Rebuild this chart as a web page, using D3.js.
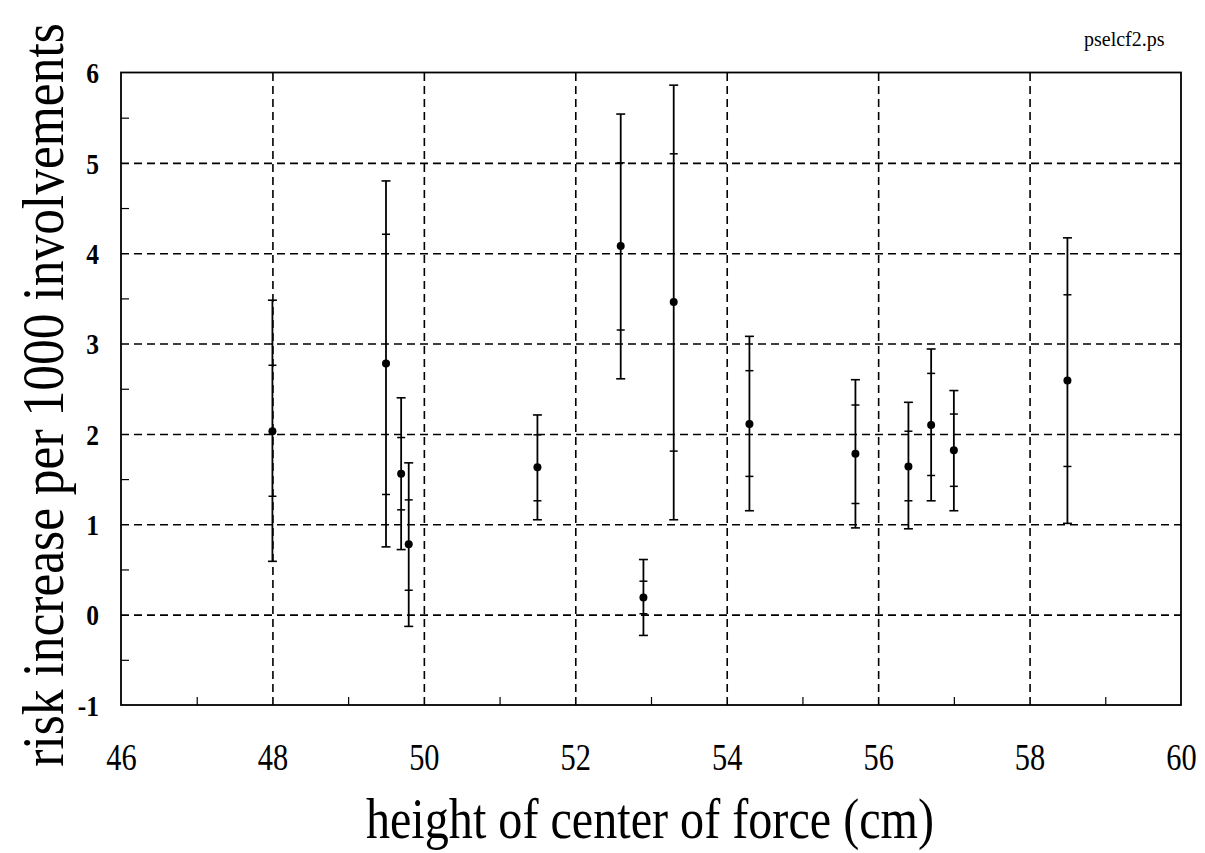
<!DOCTYPE html>
<html><head><meta charset="utf-8">
<script src="https://cdn.jsdelivr.net/npm/d3@7/dist/d3.min.js"></script>
<style>body{margin:0;background:#fff;} svg{display:block}</style>
</head><body>
<script>
// data
const xValues   = [48.0, 49.5, 49.7, 49.8, 51.5, 52.6, 52.9, 53.3, 54.3, 55.7, 56.4, 56.7, 57.0, 58.5];
const yValues   = [2.03, 2.78, 1.56, 0.78, 1.63, 4.08, 0.19, 3.46, 2.11, 1.78, 1.64, 2.10, 1.82, 2.59];
const innerLow  = [1.31, 1.33, 1.16, 0.27, 1.26, 3.15, 0.01, 1.81, 1.53, 1.23, 1.26, 1.54, 1.42, 1.64];
const innerHigh = [2.76, 4.21, 1.96, 1.27, 1.99, 5.00, 0.37, 5.10, 2.70, 2.32, 2.03, 2.67, 2.22, 3.54];
const outerLow  = [0.59, 0.75, 0.72, -0.13, 1.05, 2.61, -0.23, 1.05, 1.15, 0.96, 0.95, 1.26, 1.15, 1.01];
const outerHigh = [3.48, 4.80, 2.40, 1.68, 2.21, 5.54, 0.61, 5.86, 3.08, 2.60, 2.35, 2.94, 2.48, 4.17];
const xTicks = [46, 48, 50, 52, 54, 56, 58, 60];
const xMinorTicks = [47, 49, 51, 53, 55, 57, 59];
const xGrid = [48, 50, 52, 54, 56, 58];
const yTicks = [-1, 0, 1, 2, 3, 4, 5, 6];
const yMinorTicks = [-0.5, 0.5, 1.5, 2.5, 3.5, 4.5, 5.5];
const yGrid = [0, 1, 2, 3, 4, 5];
const xTitle = "height of center of force (cm)";
const yTitle = "risk increase per 1000 involvements";
const fileLabel = "pselcf2.ps";

const W = 1205, H = 853;
const L = 121, R = 1181, T = 72.5, B = 705;

const svg = d3.select("body").append("svg").attr("width", W).attr("height", H);
const x = d3.scaleLinear().domain([46, 60]).range([L, R]);
const y = d3.scaleLinear().domain([-1, 6]).range([B, T]);

// grid lines
const gy = svg.append("g").attr("transform", `translate(${L},0)`)
  .call(d3.axisLeft(y).tickValues(yGrid).tickSize(-(R - L)).tickFormat(""));
gy.select(".domain").remove();
gy.selectAll("line").attr("stroke", "#000").attr("stroke-width", 1.6).attr("stroke-dasharray", "8,5");

const gx = svg.append("g").attr("transform", `translate(0,${B})`)
  .call(d3.axisBottom(x).tickValues(xGrid).tickSize(-(B - T)).tickFormat(""));
gx.select(".domain").remove();
gx.selectAll("line").attr("stroke", "#000").attr("stroke-width", 1.6).attr("stroke-dasharray", "8,5");

// minor ticks
const my = svg.append("g").attr("transform", `translate(${L},0)`)
  .call(d3.axisLeft(y).tickValues(yMinorTicks).tickSize(-8).tickFormat(""));
my.select(".domain").remove();
my.selectAll("line").attr("stroke", "#000").attr("stroke-width", 1.2);
const mx = svg.append("g").attr("transform", `translate(0,${B})`)
  .call(d3.axisBottom(x).tickValues(xMinorTicks).tickSize(-8).tickFormat(""));
mx.select(".domain").remove();
mx.selectAll("line").attr("stroke", "#000").attr("stroke-width", 1.2);

// frame
svg.append("rect").attr("x", L).attr("y", T).attr("width", R - L).attr("height", B - T)
  .attr("fill", "none").attr("stroke", "#000").attr("stroke-width", 1.8);

// tick labels
const ly = svg.append("g").attr("transform", `translate(${L},0)`)
  .call(d3.axisLeft(y).tickValues(yTicks).tickSize(0).tickPadding(0).tickFormat(d3.format("d")));
ly.select(".domain").remove();
const sy = 0.85;
ly.selectAll("text")
  .attr("font-family", "'Liberation Serif', 'Times New Roman', serif")
  .attr("font-size", 30).attr("font-weight", "bold").attr("fill", "#000")
  .attr("text-anchor", "end").attr("dy", "0.34em")
  .attr("x", -22 / sy).attr("transform", `scale(${sy},1)`)
  .text(d => d < 0 ? "-" + Math.abs(d) : d);

const lx = svg.append("g").attr("transform", `translate(0,${B})`)
  .call(d3.axisBottom(x).tickValues(xTicks).tickSize(0).tickPadding(0).tickFormat(d3.format("d")));
lx.select(".domain").remove();
const sx = 0.8;
lx.selectAll("text")
  .attr("font-family", "'Liberation Serif', 'Times New Roman', serif")
  .attr("font-size", 38).attr("fill", "#000")
  .attr("text-anchor", "middle").attr("dy", 0).attr("y", 65)
  .attr("transform", `scale(${sx},1)`);

// error bars
const idx = d3.range(xValues.length);
const bars = svg.append("g").selectAll("g").data(idx).join("g");
bars.append("line")
  .attr("x1", i => x(xValues[i])).attr("x2", i => x(xValues[i]))
  .attr("y1", i => y(outerLow[i])).attr("y2", i => y(outerHigh[i]))
  .attr("stroke", "#000").attr("stroke-width", 1.8);
[outerLow, outerHigh].forEach(arr => {
  bars.append("line")
    .attr("x1", i => x(xValues[i]) - 4.5).attr("x2", i => x(xValues[i]) + 4.5)
    .attr("y1", i => y(arr[i])).attr("y2", i => y(arr[i]))
    .attr("stroke", "#000").attr("stroke-width", 1.6);
});
[innerLow, innerHigh].forEach(arr => {
  bars.append("line")
    .attr("x1", i => x(xValues[i]) - 4).attr("x2", i => x(xValues[i]) + 4)
    .attr("y1", i => y(arr[i])).attr("y2", i => y(arr[i]))
    .attr("stroke", "#000").attr("stroke-width", 1.5);
});
bars.append("circle")
  .attr("cx", i => x(xValues[i])).attr("cy", i => y(yValues[i])).attr("r", 4)
  .attr("fill", "#000");

// titles
svg.append("text").attr("transform", "translate(650,838) scale(0.86,1)")
  .attr("text-anchor", "middle")
  .attr("font-family", "'Liberation Serif', 'Times New Roman', serif")
  .attr("font-size", 56).attr("fill", "#000")
  .text(xTitle);

svg.append("text").attr("transform", "translate(63,395) rotate(-90) scale(1,1.13)")
  .attr("text-anchor", "middle")
  .attr("font-family", "'Liberation Serif', 'Times New Roman', serif")
  .attr("font-size", 51.5).attr("fill", "#000")
  .text(yTitle);

svg.append("text").attr("x", 1084).attr("y", 46)
  .attr("font-family", "'Liberation Serif', 'Times New Roman', serif")
  .attr("font-size", 20).attr("fill", "#000")
  .text(fileLabel);
</script>
</body></html>
